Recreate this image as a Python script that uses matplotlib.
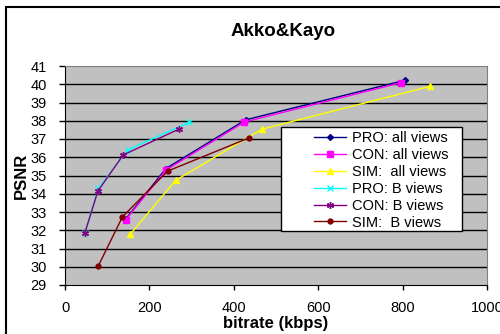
import matplotlib
matplotlib.use("Agg")
import matplotlib.pyplot as plt
from matplotlib.patches import Rectangle

plt.rcParams['font.family'] = ['Liberation Sans', 'DejaVu Sans']

pro_all_x = [144, 239, 428, 806]
pro_all_y = [32.62, 35.38, 38.05, 40.22]
con_all_x = [144, 239, 425, 797]
con_all_y = [32.58, 35.29, 37.93, 40.09]
sim_all_x = [155, 262, 467, 866]
sim_all_y = [31.79, 34.73, 37.54, 39.89]
pro_b_x = [47, 79, 149, 294]
pro_b_y = [31.85, 34.29, 36.41, 37.91]
con_b_x = [47, 78, 138, 269]
con_b_y = [31.85, 34.15, 36.13, 37.53]
sim_b_x = [79, 136, 243, 437]
sim_b_y = [30.05, 32.73, 35.24, 37.07]

labels = ["PRO: all views", "CON: all views", "SIM:  all views",
          "PRO: B views", "CON: B views", "SIM:  B views"]

W, H = 500, 334
fig = plt.figure(figsize=(5, 3.34), dpi=100)
ax = fig.add_axes([65/W, 1-285/H, (487-65)/W, (285-66)/H])
ax.set_facecolor('#C0C0C0')

series = [
    (pro_all_x, pro_all_y, '#000080', 'D', 3),
    (con_all_x, con_all_y, '#FF00FF', 's', 4),
    (sim_all_x, sim_all_y, '#FFFF00', '^', 4),
    (pro_b_x, pro_b_y, '#00FFFF', 'x', 4),
    (con_b_x, con_b_y, '#800080', (6, 2, 0), 5),
    (sim_b_x, sim_b_y, '#800000', 'o', 3.5),
]
for (xs, ys, c, m, ms), lab in zip(series, labels):
    ax.plot(xs, ys, color=c, marker=m, markersize=ms, linewidth=1,
            label=lab, markeredgecolor=c, markerfacecolor=c, zorder=2)

ax.set_xlim(0, 1000)
ax.set_ylim(29, 41)
ax.set_xticks([0, 200, 400, 600, 800, 1000])
ax.set_yticks(range(29, 42))
for v in range(30, 41):
    ax.axhline(v, color='black', linewidth=1, zorder=0.5)
ax.tick_params(axis='both', labelsize=10.5, direction='out', width=1)
ax.tick_params(axis='x', pad=8, length=3.5)
ax.tick_params(axis='y', pad=9, length=4)
for s in ['top', 'right']:
    ax.spines[s].set_color('#808080')
ax.spines['left'].set_color('black')
ax.spines['bottom'].set_color('black')

ax.set_xlabel('bitrate (kbps)', fontsize=12, fontweight='bold', labelpad=1)
ax.set_ylabel('PSNR', fontsize=12, fontweight='bold', labelpad=1)
fig.text(283/W, 1-31/H, 'Akko&Kayo', fontsize=13.5, fontweight='bold',
         ha='center', va='center')

# legend box
box = Rectangle((281/W, 1-231/H), (462-281)/W, (231-127)/H,
                transform=fig.transFigure, facecolor='white',
                edgecolor='black', linewidth=1, zorder=4)
ax.add_artist(box)
box.set_clip_on(False)

leg = ax.legend(loc='upper left', bbox_to_anchor=(314/W, 1-131/H),
                bbox_transform=fig.transFigure, fontsize=10.5,
                frameon=False, borderpad=0, labelspacing=0.2,
                handlelength=2.2, handletextpad=0.4, borderaxespad=0)
leg.set_zorder(5)

fig.patches.append(Rectangle((6/W, -0.1), 1.2, (H-7)/H + 0.1,
                             transform=fig.transFigure, fill=False,
                             edgecolor='black', linewidth=1.5))

fig.savefig('out.png', dpi=100)
